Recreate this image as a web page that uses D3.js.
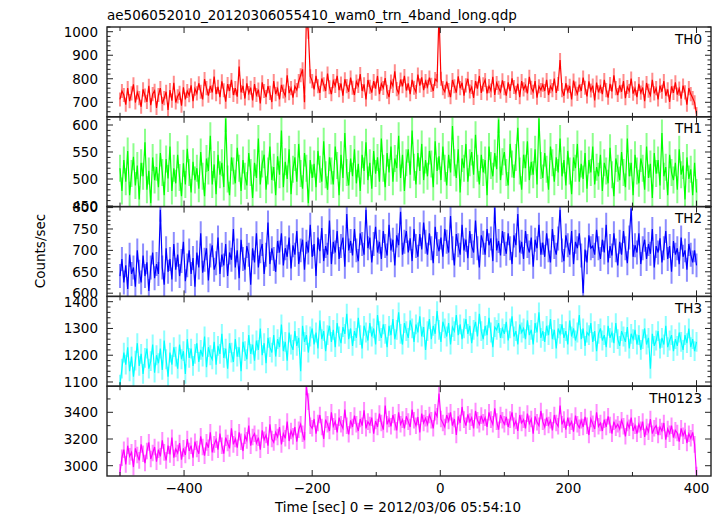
<!DOCTYPE html>
<html><head><meta charset="utf-8">
<script src="https://cdn.jsdelivr.net/npm/d3@7"></script>
<style>body{margin:0;background:#fff}svg{display:block}text{font-family:"DejaVu Sans",sans-serif;fill:#000}</style>
</head><body><svg id="c" width="723" height="516"></svg>
<script>
const title = "ae506052010_20120306055410_wam0_trn_4band_long.qdp";
const xLabel = "Time [sec] 0 = 2012/03/06 05:54:10";
const yLabel = "Counts/sec";
const bandNames = ["TH0", "TH1", "TH2", "TH3", "TH0123"];
const bandColors = ["#ff0000", "#00ff00", "#0000ff", "#00ffff", "#ff00ff"];
const tStart = -500, tStep = 3;
const th0 = [712,748,731,690,760,705,738,776,699,742,
718,681,755,729,702,770,688,735,749,676,
731,760,694,718,745,668,752,707,783,699,
725,740,686,764,712,748,730,772,705,758,
738,781,745,712,799,760,728,770,742,809,
735,766,722,789,751,703,777,748,795,731,
760,724,852,742,770,716,781,739,762,708,
777,731,754,695,785,748,722,769,740,701,
790,735,758,712,774,746,728,815,739,760,
720,768,752,790,815,840,700,1060,1000,810,
790,755,812,768,740,801,776,748,822,764,
735,790,770,812,752,780,728,798,769,745,
805,762,731,788,770,820,748,776,712,795,
766,741,790,758,812,735,779,761,803,745,
722,788,770,832,756,739,797,768,812,750,
780,735,795,762,744,818,771,806,752,790,
766,805,774,748,799,790,1080,800,760,745,
788,752,722,795,768,741,810,760,783,728,
772,800,746,765,719,790,758,812,740,776,
795,738,769,750,808,731,782,762,745,793,
760,728,785,748,802,765,740,779,722,790,
755,772,738,808,762,745,790,720,768,752,
775,748,795,731,768,752,801,740,778,880,
752,728,781,745,770,712,792,758,736,775,
748,805,762,725,789,750,771,708,784,742,
768,735,795,752,720,778,746,815,760,731,
772,745,790,718,765,748,801,737,759,722,
778,741,763,705,782,749,730,796,738,760,
712,771,745,790,728,755,702,768,740,785,
733,758,716,771,742,690,760,735,718,700,
650];
const th1 = [520,478,535,495,552,470,510,541,488,525,
462,530,505,568,480,515,455,540,498,522,
485,548,512,470,537,501,560,478,520,492,
545,503,468,529,490,556,512,475,532,498,
520,482,550,505,468,538,515,580,490,527,
472,545,508,530,485,612,500,470,540,515,
492,558,520,478,535,505,488,548,512,465,
530,502,575,490,528,545,480,515,560,498,
522,470,542,508,590,485,532,500,555,472,
518,540,495,565,510,482,548,520,455,535,
502,528,485,552,518,495,570,508,480,540,
515,490,560,525,470,545,502,585,512,488,
538,505,555,492,528,478,545,515,568,498,
530,482,552,510,540,495,575,520,485,548,
512,560,495,538,520,580,502,545,478,530,
555,508,590,522,490,548,515,565,498,535,
505,552,528,485,570,515,542,498,560,520,
488,545,512,598,530,502,555,475,538,520,
565,495,530,550,508,582,520,490,545,512,
535,470,560,525,505,548,518,610,498,532,
550,512,488,565,528,502,540,595,515,480,
545,520,570,498,532,508,555,490,612,525,
502,548,518,480,560,530,495,540,512,575,
505,535,488,552,515,472,540,520,565,495,
528,500,548,482,535,512,560,490,522,505,
545,478,530,515,492,558,508,468,538,520,
498,550,512,485,575,505,530,470,545,515,
492,538,520,480,560,502,528,465,548,510,
535,488,585,505,522,470,545,512,498,530,
480,555,508,525,462,540,500,518,470,530,
475];
const th2 = [640,680,625,665,610,690,645,660,615,700,
650,625,688,640,672,605,660,695,635,668,
645,795,660,620,705,650,680,632,715,655,
690,640,675,720,628,665,700,645,682,615,
695,660,740,648,678,705,630,688,712,655,
670,730,645,690,665,715,640,695,678,750,
660,700,635,725,680,655,710,690,620,705,
672,740,660,698,715,645,690,765,668,705,
680,650,722,695,740,665,705,685,730,658,
712,690,745,668,700,725,655,720,695,760,
685,715,640,730,698,752,675,710,690,770,
668,720,695,745,680,710,730,662,785,700,
722,688,750,700,675,740,715,690,795,705,
730,672,715,755,695,720,680,745,710,688,
760,700,725,665,735,712,790,690,720,745,
695,728,675,750,710,685,738,702,765,720,
690,740,705,670,755,715,698,730,685,750,
720,695,780,705,665,738,712,690,760,700,
725,682,745,710,695,770,705,660,735,718,
690,750,712,728,675,800,700,722,688,745,
715,692,740,705,668,735,712,785,695,720,
680,745,710,695,730,662,725,705,760,690,
718,685,740,700,672,750,708,690,728,795,
700,675,735,712,690,745,668,720,705,740,
688,600,702,672,735,705,710,690,748,705,
680,725,695,760,672,710,688,740,700,665,
720,690,745,705,670,730,798,685,712,695,
740,668,705,725,680,715,692,750,660,710,
695,728,672,705,745,680,710,650,722,690,
705,668,730,685,700,655,715,690,672,700,
665];
const th3 = [1090,1150,1210,1165,1230,1140,1195,1120,1180,1245,
1160,1205,1130,1190,1225,1150,1178,1240,1135,1200,
1170,1225,1145,1255,1185,1120,1210,1165,1230,1195,
1150,1240,1185,1215,1130,1260,1190,1225,1160,1205,
1245,1175,1220,1195,1270,1155,1230,1200,1185,1250,
1165,1235,1205,1280,1190,1225,1150,1245,1210,1175,
1260,1195,1230,1140,1250,1215,1185,1275,1205,1240,
1180,1255,1220,1300,1200,1245,1170,1265,1230,1210,
1275,1195,1260,1230,1315,1215,1250,1180,1285,1240,
1220,1290,1235,1265,1140,1310,1250,1275,1210,1270,
1300,1240,1285,1225,1330,1260,1290,1215,1275,1310,
1250,1295,1230,1320,1270,1245,1305,1280,1355,1260,
1300,1235,1290,1265,1340,1275,1225,1310,1285,1255,
1320,1270,1300,1240,1350,1290,1265,1315,1280,1230,
1310,1275,1335,1260,1295,1360,1280,1240,1320,1290,
1265,1330,1300,1250,1315,1285,1345,1270,1305,1220,
1290,1335,1260,1310,1280,1365,1295,1250,1325,1300,
1270,1320,1240,1305,1290,1350,1275,1315,1260,1300,
1335,1280,1310,1245,1295,1325,1270,1355,1290,1260,
1310,1275,1340,1285,1230,1305,1295,1320,1265,1300,
1280,1325,1255,1300,1345,1270,1290,1240,1315,1285,
1300,1260,1330,1275,1295,1240,1320,1285,1360,1265,
1290,1250,1310,1275,1335,1260,1295,1225,1300,1280,
1315,1265,1290,1240,1330,1270,1300,1255,1285,1350,
1260,1300,1235,1285,1275,1320,1250,1290,1215,1280,
1300,1255,1275,1230,1310,1265,1285,1245,1320,1260,
1235,1290,1270,1250,1305,1225,1280,1260,1295,1240,
1275,1220,1260,1300,1240,1265,1150,1280,1235,1255,
1290,1225,1265,1240,1310,1230,1255,1275,1215,1260,
1235,1285,1250,1220,1275,1245,1300,1230,1260,1215,
1250];
const th0123 = [2950,3060,3120,3010,3150,3070,3100,2990,3130,3080,
3040,3160,3090,3020,3110,3175,3050,3095,3140,3030,
3120,3070,3190,3100,3040,3150,3085,3210,3060,3125,
3095,3170,3045,3130,3080,3200,3110,3150,3060,3180,
3125,3090,3220,3140,3075,3175,3135,3250,3100,3160,
3195,3120,3240,3150,3090,3210,3170,3130,3280,3160,
3200,3135,3250,3180,3110,3225,3190,3300,3150,3215,
3240,3170,3210,3120,3265,3195,3230,3150,3310,3200,
3175,3250,3215,3290,3160,3240,3205,3330,3185,3260,
3220,3290,3180,3270,3310,3240,3190,3590,3480,3300,
3280,3350,3240,3320,3380,3290,3200,3345,3310,3260,
3400,3295,3330,3250,3360,3310,3280,3420,3300,3235,
3340,3290,3375,3310,3260,3350,3300,3415,3280,3330,
3305,3360,3240,3335,3290,3390,3320,3270,3450,3310,
3350,3295,3380,3325,3265,3400,3310,3345,3280,3370,
3330,3290,3420,3340,3300,3365,3250,3390,3320,3355,
3310,3380,3340,3280,3400,3370,3540,3350,3320,3290,
3380,3335,3400,3300,3350,3230,3370,3320,3440,3345,
3300,3385,3330,3360,3280,3410,3340,3310,3375,3325,
3360,3290,3400,3345,3310,3430,3330,3270,3380,3340,
3310,3365,3290,3345,3400,3300,3335,3260,3380,3320,
3345,3280,3390,3315,3350,3240,3370,3325,3300,3410,
3330,3290,3360,3305,3340,3265,3380,3320,3295,3450,
3310,3345,3270,3360,3300,3330,3255,3375,3310,3285,
3340,3290,3365,3300,3230,3350,3315,3275,3400,3295,
3320,3260,3345,3290,3370,3305,3240,3330,3285,3310,
3275,3340,3295,3220,3320,3285,3360,3260,3300,3240,
3310,3270,3330,3215,3290,3255,3350,3240,3280,3300,
3230,3290,3260,3320,3195,3275,3240,3300,3210,3265,
3245,3180,3280,3225,3260,3170,3240,3205,3250,3160,
2930];
const bandValues = [th0, th1, th2, th3, th0123];
const bandErrors = [30, 25, 28, 37, 62];
const yDomains = [[638.4, 1020], [448.9, 615.2], [592.5, 802.3], [1084.3, 1419.8], [2923, 3595.5]];
const yMajor = [100, 50, 50, 100, 200];
const yMinor = [20, 10, 10, 20, 100];
const xDomain = [-520.3, 422.6];
const xMajorStep = 200, xMinorStep = 100;

const svg = d3.select("#c");
const L = 107, R = 711, T = 27, B = 476;
const ph = (B - T) / bandNames.length;
const x = d3.scaleLinear().domain(xDomain).range([L, R]);

svg.append("text").attr("x", L).attr("y", 20).attr("font-size", 13.5).text(title);

bandNames.forEach((name, i) => {
  const top = T + i * ph, bot = top + ph;
  const y = d3.scaleLinear().domain(yDomains[i]).range([bot, top]);
  const vals = bandValues[i];
  const pts = vals.map((v, k) => ({t: tStart + k * tStep, v}));
  const g = svg.append("g");
  const cid = "clip" + i;
  svg.append("clipPath").attr("id", cid).append("rect")
    .attr("x", L).attr("y", top).attr("width", R - L).attr("height", ph);
  const dg = g.append("g").attr("clip-path", `url(#${cid})`);
  const err = bandErrors[i];
  dg.append("path")
    .attr("d", pts.map(p => `M${x(p.t)},${y(p.v - err)}V${y(p.v + err)}`).join(""))
    .attr("stroke", bandColors[i]).attr("stroke-opacity", 0.45).attr("stroke-width", 2).attr("fill", "none");
  dg.append("path").datum(pts)
    .attr("d", d3.line().x(p => x(p.t)).y(p => y(p.v)))
    .attr("stroke", bandColors[i]).attr("stroke-width", 1.2).attr("fill", "none");

  const [d0, d1] = yDomains[i];
  const mi = yMinor[i], ma = yMajor[i];
  const tg = g.append("g").attr("stroke", "#222").attr("stroke-width", 1);
  for (let v = Math.ceil(d0 / mi) * mi; v <= d1; v += mi) {
    const major = Math.abs(v / ma - Math.round(v / ma)) < 1e-6;
    const len = major ? 6 : 3.5;
    const yy = y(v);
    tg.append("line").attr("x1", L).attr("x2", L + len).attr("y1", yy).attr("y2", yy);
    tg.append("line").attr("x1", R).attr("x2", R - len).attr("y1", yy).attr("y2", yy);
    if (major) {
      g.append("text").attr("x", 98).attr("y", yy).attr("dy", "0.36em")
        .attr("text-anchor", "end").attr("font-size", 13.5).text(v);
    }
  }
  for (let v = Math.ceil(xDomain[0] / xMinorStep) * xMinorStep; v <= xDomain[1]; v += xMinorStep) {
    const major = v % xMajorStep === 0;
    const len = major ? 6 : 4;
    const xx = x(v);
    tg.append("line").attr("x1", xx).attr("x2", xx).attr("y1", top).attr("y2", top + len);
    tg.append("line").attr("x1", xx).attr("x2", xx).attr("y1", bot).attr("y2", bot - len);
    if (i === bandNames.length - 1 && major) {
      g.append("text").attr("x", xx).attr("y", 493).attr("text-anchor", "middle")
        .attr("font-size", 13.5).text(v < 0 ? "\u2212" + Math.abs(v) : v);
    }
  }
  g.append("rect").attr("x", L).attr("y", top).attr("width", R - L).attr("height", ph)
    .attr("fill", "none").attr("stroke", "#222").attr("stroke-width", 1.4);
  g.append("text").attr("x", 702).attr("y", top + 16.5).attr("text-anchor", "end")
    .attr("font-size", 13.5).text(name);
});

svg.append("text").attr("x", 398).attr("y", 512).attr("text-anchor", "middle")
  .attr("font-size", 13.5).text(xLabel);
svg.append("text").attr("transform", "translate(45,251) rotate(-90)")
  .attr("text-anchor", "middle").attr("font-size", 13.5).text(yLabel);
</script></body></html>
